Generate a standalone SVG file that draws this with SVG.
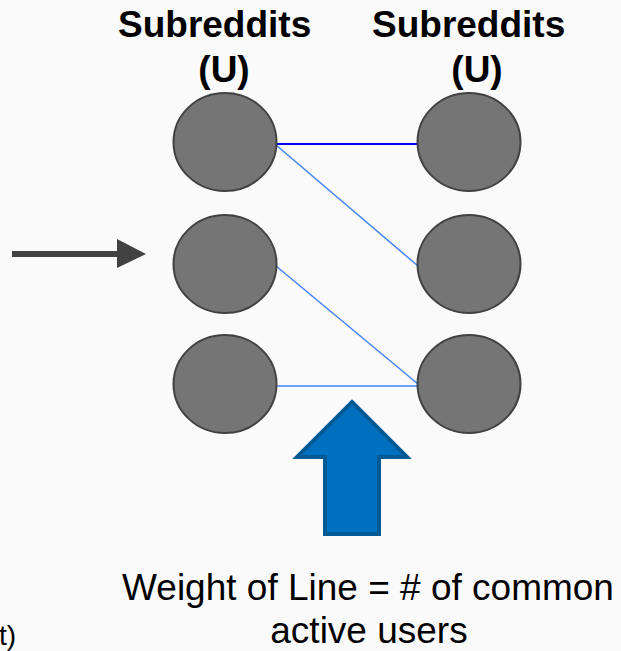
<svg xmlns="http://www.w3.org/2000/svg" width="621" height="651" viewBox="0 0 621 651">
<style>
.n{fill:#757575;stroke:#424242;stroke-width:2}
.t{font-family:"Liberation Sans",Arial,sans-serif;fill:#000}
.h{font-size:37px;font-weight:bold}
.c{font-size:37px;text-anchor:middle}
.e{stroke:#4285F4;stroke-width:1.5;fill:none}
</style>
<rect width="621" height="651" fill="#fafafa"/>
<g id="labels">
<text class="t h" x="118" y="37">Subreddits</text>
<text class="t h" x="224" y="82" text-anchor="middle">(U)</text>
<text class="t h" x="372" y="37">Subreddits</text>
<text class="t h" x="477" y="82" text-anchor="middle">(U)</text>
</g>
<g id="connectors">
<line x1="276" y1="144" x2="418" y2="144" stroke="#0000EE" stroke-width="2"/>
<line class="e" x1="276" y1="145" x2="418" y2="266"/>
<line class="e" x1="276" y1="266" x2="418" y2="384"/>
<line class="e" x1="276" y1="386" x2="418" y2="386"/>
</g>
<g id="L1"><ellipse class="n" cx="225" cy="142" rx="51.5" ry="49"/></g>
<g id="L2"><ellipse class="n" cx="225" cy="264" rx="51.5" ry="49"/></g>
<g id="L3"><ellipse class="n" cx="225" cy="384" rx="51.5" ry="49"/></g>
<g id="R1"><ellipse class="n" cx="469" cy="142" rx="51.5" ry="49"/></g>
<g id="R2"><ellipse class="n" cx="469" cy="264" rx="51.5" ry="49"/></g>
<g id="R3"><ellipse class="n" cx="469" cy="384" rx="51.5" ry="49"/></g>
<g id="arrow-left">
<rect x="12" y="251" width="106" height="6" fill="#424242"/>
<polygon points="117,239 146,254 117,268" fill="#424242"/>
</g>
<g id="arrow-up">
<polygon points="352,402 407,457 379,457 379,534 325,534 325,457 297,457" fill="#0070C0" stroke="#005A96" stroke-width="4" stroke-linejoin="miter"/>
</g>
<g id="caption">
<text class="t c" x="368" y="600">Weight of Line = # of common</text>
<text class="t c" x="369" y="643">active users</text>
<text class="t" x="-1" y="645" font-size="28">t)</text>
</g>
</svg>
